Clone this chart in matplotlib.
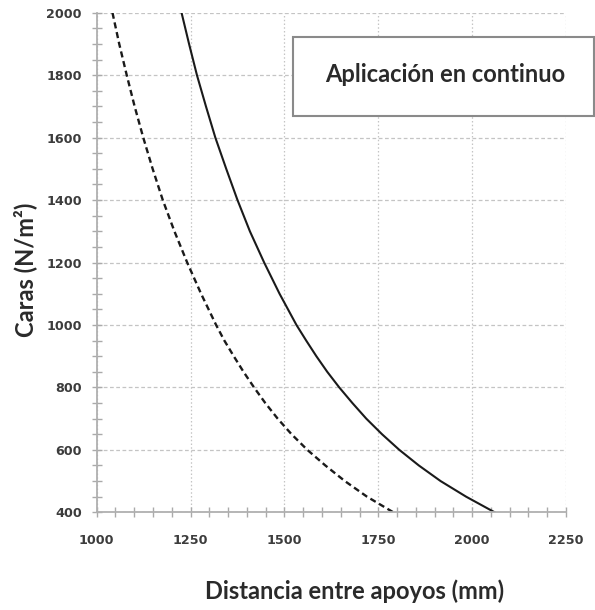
import matplotlib
matplotlib.use("Agg")
import matplotlib.pyplot as plt
from matplotlib.ticker import MultipleLocator
from matplotlib.patches import Rectangle

# Data (load vs. span)
solid_y = [2000, 1900, 1800, 1700, 1600, 1500, 1400, 1300, 1200, 1100, 1000,
           950, 900, 850, 800, 750, 700, 650, 600, 550, 500, 450, 400]
solid_x = [1226, 1246, 1267, 1291, 1316, 1345, 1375, 1408, 1446, 1487, 1532,
           1558, 1585, 1614, 1646, 1681, 1718, 1760, 1806, 1858, 1916, 1984, 2060]
dashed_y = [2000, 1900, 1800, 1700, 1600, 1500, 1400, 1300, 1200, 1100, 1000,
            950, 900, 850, 800, 750, 700, 650, 600, 550, 500, 450, 400]
dashed_x = [1042, 1060, 1080, 1101, 1124, 1149, 1176, 1207, 1241, 1278, 1318,
            1340, 1365, 1391, 1419, 1449, 1482, 1519, 1561, 1609, 1661, 1720, 1790]

x_ticks = [1000, 1250, 1500, 1750, 2000, 2250]
y_ticks = [400, 600, 800, 1000, 1200, 1400, 1600, 1800, 2000]

x_label = "Distancia entre apoyos (mm)"
y_label = "Caras (N/m²)"
box_text = "Aplicación en continuo"

W, H = 595, 610
fig = plt.figure(figsize=(W / 100, H / 100), dpi=100)
ax = fig.add_axes([96.7 / W, 97.7 / H, (566 - 96.7) / W, (512.3 - 12.7) / H])

ax.plot(solid_x, solid_y, color="#1a1a1a", lw=1.5, solid_joinstyle="round")
ax.plot(dashed_x, dashed_y, color="#1a1a1a", lw=1.7, dashes=(2.6, 1.6))

ax.set_xlim(1000, 2250)
ax.set_ylim(400, 2000)
ax.set_xticks(x_ticks)
ax.set_yticks(y_ticks)
ax.xaxis.set_minor_locator(MultipleLocator(50))
ax.yaxis.set_minor_locator(MultipleLocator(50))

grid_c = "#c4c4c4"
ax.yaxis.grid(True, which="major", color=grid_c, lw=0.9, linestyle=(0, (3, 2)))
ax.xaxis.grid(True, which="major", color=grid_c, lw=0.9, linestyle=(0, (1.2, 1.8)))
ax.set_axisbelow(True)

for s in ["top", "right"]:
    ax.spines[s].set_visible(False)
for s in ["left", "bottom"]:
    ax.spines[s].set_color("#b0b0b0")
    ax.spines[s].set_linewidth(1.3)

ax.tick_params(which="both", direction="inout", length=7.2, width=1, color="#aaaaaa")
ax.tick_params(axis="y", which="major", pad=7)
ax.tick_params(axis="x", which="major", pad=12)

for lab in ax.get_xticklabels() + ax.get_yticklabels():
    lab.set_fontfamily("DejaVu Sans")
    lab.set_fontweight("bold")
    lab.set_fontsize(9.2)
    lab.set_color("#3c3c3c")

fig.text(25 / W, 1 - 270 / H, y_label, rotation=90, ha="center", va="center",
         fontfamily="Lato", fontweight="bold", fontsize=17, color="#2a2a2a")
fig.text(355 / W, 1 - 591 / H, x_label, ha="center", va="center",
         fontfamily="Lato", fontweight="bold", fontsize=17, color="#2a2a2a")

rect = Rectangle((292.7 / W, 1 - 116 / H), (594 - 292.7) / W, (116 - 37) / H,
                 transform=fig.transFigure, facecolor="white", edgecolor="#8a8a8a",
                 lw=1.5, zorder=5)
fig.patches.append(rect)
fig.text(445 / W, 1 - 74 / H, box_text, ha="center", va="center",
         fontfamily="Lato", fontweight="bold", fontsize=17, color="#2a2a2a", zorder=6)

fig.savefig("out.png", dpi=100, facecolor="white")
